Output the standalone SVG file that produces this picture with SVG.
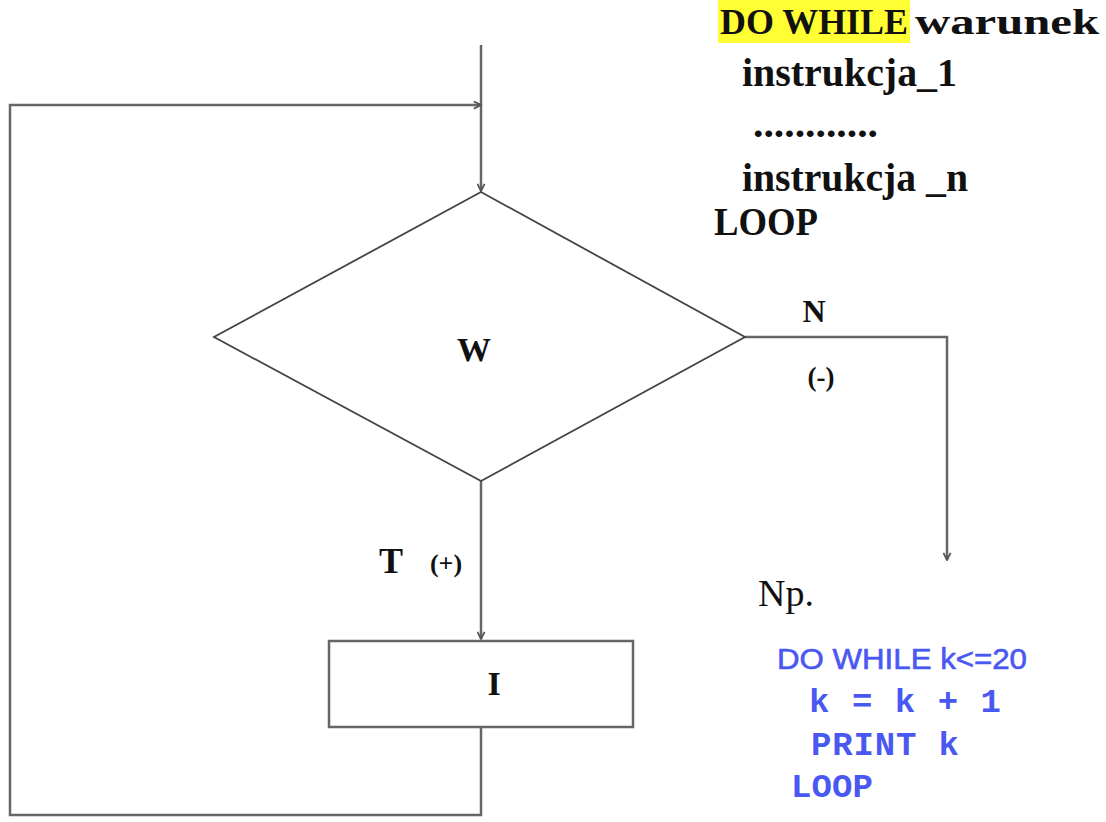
<svg xmlns="http://www.w3.org/2000/svg" width="1106" height="822" viewBox="0 0 1106 822">
  <style>
    .flow { fill: none; stroke: #666; stroke-width: 2.5; }
    .shape { fill: #fff; stroke: #444; stroke-width: 1.8; }
    .box { fill: #fff; stroke: #666; stroke-width: 2.5; }
    .ser { font-family: "Liberation Serif", "Times New Roman", serif; fill: #111; }
    .bold { font-weight: bold; }
    .blue { fill: #4a58f2; }
    .sans { font-family: "Liberation Sans", Arial, sans-serif; stroke: #4a58f2; stroke-width: 0.6; }
    .mono { font-family: "Liberation Mono", "Courier New", monospace; font-weight: bold; }
  </style>
  <defs>
    <marker id="arrow" viewBox="0 0 10 10" refX="9" refY="5" markerWidth="9" markerHeight="9" markerUnits="userSpaceOnUse" orient="auto">
      <path d="M1,1 L9,5 L1,9" fill="none" stroke="#555" stroke-width="2"/>
    </marker>
  </defs>
  <rect width="1106" height="822" fill="#fff"/>

  <!-- connectors -->
  <g id="connectors">
    <polyline class="flow" points="481,45 481,191" marker-end="url(#arrow)"/>
    <polyline class="flow" points="745,337 947,337 947,560" marker-end="url(#arrow)"/>
    <polyline class="flow" points="481,481 481,639" marker-end="url(#arrow)"/>
    <polyline class="flow" points="481,727 481,815 10,815 10,105 481,105" marker-end="url(#arrow)"/>
  </g>

  <!-- decision node -->
  <g id="decision">
    <polygon class="shape" points="481,192 745,337 481,481 214,337"/>
    <text class="ser bold" x="474" y="361" font-size="34" text-anchor="middle">W</text>
  </g>

  <!-- branch labels -->
  <g id="label-no">
    <text class="ser bold" x="814" y="322" font-size="32" text-anchor="middle">N</text>
    <text class="ser bold" x="821" y="386" font-size="27" text-anchor="middle">(-)</text>
  </g>
  <g id="label-yes">
    <text class="ser bold" x="391" y="573" font-size="36" text-anchor="middle">T</text>
    <text class="ser bold" x="446" y="572" font-size="26" text-anchor="middle">(+)</text>
  </g>

  <!-- instruction block -->
  <g id="instruction">
    <rect class="box" x="329" y="641" width="304" height="86"/>
    <text class="ser bold" x="494" y="695" font-size="34" text-anchor="middle">I</text>
  </g>

  <!-- syntax -->
  <g id="syntax" font-family="'Liberation Serif', 'Times New Roman', serif" font-weight="bold" font-size="40" fill="#111">
    <rect x="718" y="0" width="192" height="43" fill="#ffff33"/>
    <text x="720" y="34" font-size="35" textLength="188" lengthAdjust="spacingAndGlyphs">DO WHILE</text>
    <text x="915" y="34" font-size="35" textLength="184" lengthAdjust="spacingAndGlyphs">warunek</text>
    <text x="742" y="86" textLength="215" lengthAdjust="spacingAndGlyphs">instrukcja_1</text>
    <text x="753" y="137" textLength="125" lengthAdjust="spacingAndGlyphs">............</text>
    <text x="742" y="191" textLength="226" lengthAdjust="spacingAndGlyphs">instrukcja _n</text>
    <text x="714" y="235" textLength="104" lengthAdjust="spacingAndGlyphs">LOOP</text>
  </g>

  <!-- example -->
  <g id="example">
    <text class="ser" x="758" y="606" font-size="38">Np.</text>
    <text class="sans blue" x="777" y="669" font-size="29" textLength="250" lengthAdjust="spacingAndGlyphs">DO WHILE k&lt;=20</text>
    <text class="mono blue" x="809" y="712" font-size="34" textLength="192" lengthAdjust="spacing" xml:space="preserve">k = k + 1</text>
    <text class="mono blue" x="811" y="755" font-size="34" textLength="148" lengthAdjust="spacing">PRINT k</text>
    <text class="mono blue" x="791" y="797" font-size="34" textLength="82" lengthAdjust="spacing">LOOP</text>
  </g>
</svg>
